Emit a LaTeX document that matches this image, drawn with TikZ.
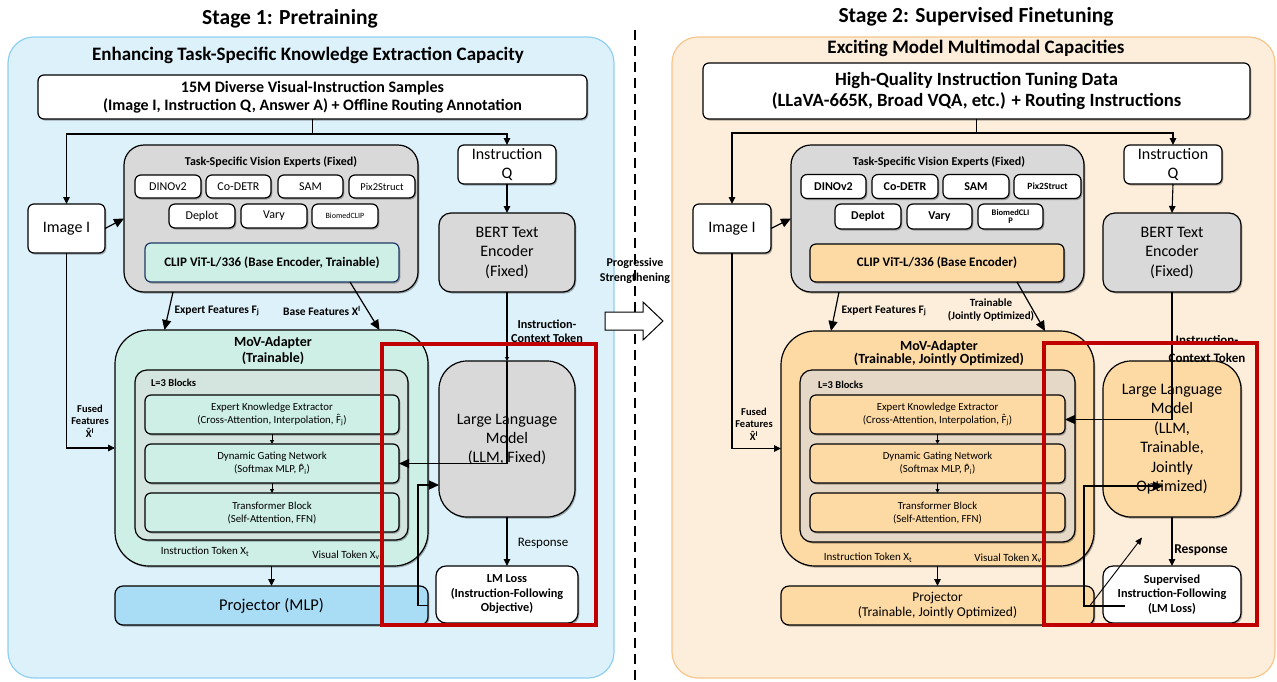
\documentclass[tikz,border=0pt]{standalone}
\usepackage{fontspec}
\setmainfont{Carlito}
\usetikzlibrary{arrows.meta,calc,shadows}
\definecolor{panelB}{HTML}{DDF1FB}
\definecolor{panelBd}{HTML}{8FD0F2}
\definecolor{panelO}{HTML}{FDEEDC}
\definecolor{panelOd}{HTML}{F7C68C}
\definecolor{grayF}{HTML}{D9D9D9}
\definecolor{mint}{HTML}{CDEFE5}
\definecolor{mintg}{HTML}{D4E4DE}
\definecolor{projB}{HTML}{A9DDF6}
\definecolor{org}{HTML}{FDD9A4}
\definecolor{orgg}{HTML}{E6D8C6}
\definecolor{redb}{HTML}{C00000}
\definecolor{clipbd}{HTML}{1F3A68}
\newcommand\fz[2]{\fontsize{#1}{#2}\selectfont}
\newcommand\hatc[1]{{\ooalign{#1\cr\hidewidth\raisebox{0.17em}{\char"02C6}\hidewidth\cr}}}
\begin{document}
\begin{tikzpicture}[x=1pt,y=-1pt,
  every node/.style={inner sep=0pt, outer sep=0pt},
  panel/.style={line width=1.2pt, rounded corners=26pt},
  shd/.style={drop shadow={shadow xshift=1.3pt, shadow yshift=-1.6pt, opacity=0.3, fill=black}},
  wbox/.style={draw, line width=1.2pt, fill=white, rounded corners=6pt, align=center, shd},
  ttl/.style={font=\fz{21.5}{25}\bfseries},
  sub/.style={font=\fz{19}{22}\bfseries},
  lbl/.style={font=\fz{11.5}{13.5}\bfseries, align=center},
  arr/.style={line width=1.2pt, -{Triangle[length=10pt,width=9pt]}},
  arrs/.style={line width=1.1pt, -{Triangle[length=7pt,width=6.5pt]}},
  arrt/.style={line width=0.8pt, -{Triangle[length=4pt,width=4pt]}},
  ln/.style={line width=1.2pt},
  redbox/.style={draw=redb, line width=3.5pt}
]
\useasboundingbox (0,0) rectangle (1277,681);
\fill[white] (0,0) rectangle (1277,681);
% ---------------- panels
\draw[panel, fill=panelB, draw=panelBd] (8,37) rectangle (614,678);
\draw[panel, fill=panelO, draw=panelOd] (672,37) rectangle (1275,678);
\coordinate (dt) at (635,30);
\coordinate (db) at (635,681);
\draw[line width=2.6pt, dash pattern=on 10pt off 6pt] (dt) -- (db);
\node[ttl] (t1) at (290,19) {Stage 1: Pretraining};
\node[ttl] (t2) at (976,17) {Stage 2: Supervised Finetuning};
\node[lbl, font=\fz{12}{14.5}\bfseries] (prog) at (635,271) {Progressive\\Strengthening};
\draw[line width=1pt, fill=white] (605,312) -- (643,312) -- (643,302) -- (663,321) -- (643,340) -- (643,330) -- (605,330) -- cycle;

% ================= STAGE 1
\node[sub] (s1) at (308,55) {Enhancing Task-Specific Knowledge Extraction Capacity};
\node[wbox, minimum width=549, minimum height=44, font=\fz{16}{18}\bfseries] (d1) at (312.5,97) {15M Diverse Visual-Instruction Samples\\(Image I, Instruction Q, Answer A) + Offline Routing Annotation};
\node[wbox, minimum width=77, minimum height=49, font=\fz{16}{19}] (img1) at (66.5,228.5) {Image I};
\node[wbox, fill=grayF, rounded corners=20pt, minimum width=294, minimum height=147] (gray1) at (271,218.5) {};
\node[font=\fz{12}{14}\bfseries] (gt1) at (271,162) {Task-Specific Vision Experts (Fixed)};
\node[wbox, minimum width=66, minimum height=23, font=\fz{12}{14}] (dino1) at (168,186.5) {DINOv2};
\node[wbox, minimum width=65, minimum height=23, font=\fz{12}{14}] (codetr1) at (238.5,186.5) {Co-DETR};
\node[wbox, minimum width=65, minimum height=23, font=\fz{12}{14}] (sam1) at (310.5,186.5) {SAM};
\node[wbox, minimum width=66, minimum height=23, font=\fz{10.5}{12}] (pix1) at (382,186.5) {Pix2Struct};
\node[wbox, minimum width=66, minimum height=24, font=\fz{12}{14}] (deplot1) at (202,216) {Deplot};
\node[wbox, minimum width=66, minimum height=24, font=\fz{12}{14}] (vary1) at (274,216) {Vary};
\node[wbox, minimum width=66, minimum height=24, font=\fz{8}{10}] (bio1) at (345,216) {BiomedCLIP};
\node[wbox, fill=mint, draw=clipbd, minimum width=254, minimum height=39, font=\fz{13}{15}\bfseries] (clip1) at (272,262.5) {CLIP ViT-L/336 (Base Encoder, Trainable)};
\node[wbox, minimum width=98, minimum height=39, font=\fz{16}{19}] (iq1) at (507,164.5) {Instruction\\Q};
\node[wbox, fill=grayF, rounded corners=12pt, minimum width=136, minimum height=79, font=\fz{16}{19.5}] (bert1) at (507,252.5) {BERT Text\\Encoder\\(Fixed)};
% MoV adapter
\node[wbox, fill=mint, rounded corners=34pt, minimum width=313, minimum height=236] (mov1) at (271.5,448) {};
\node[font=\fz{14}{16}\bfseries, align=center] (movt1) at (273,351) {MoV-Adapter\\(Trainable)};
\node[wbox, fill=mintg, rounded corners=12pt, minimum width=273, minimum height=170] (l31) at (271.5,455) {};
\node[anchor=west, font=\fz{10.5}{12}\bfseries] (l3t1) at (151,383) {L=3 Blocks};
\node[wbox, fill=mint, minimum width=254, minimum height=39, font=\fz{10.8}{13}] (eke1) at (272,414.5) {Expert Knowledge Extractor\\(Cross-Attention, Interpolation, \hatc{F}\textsubscript{j})};
\node[wbox, fill=mint, minimum width=254, minimum height=39, font=\fz{10.8}{13}] (dgn1) at (272,463.5) {Dynamic Gating Network\\(Softmax MLP, \hatc{P}\textsubscript{i})};
\node[wbox, fill=mint, minimum width=254, minimum height=39, font=\fz{10.8}{13}] (tb1) at (272,512.5) {Transformer Block\\(Self-Attention, FFN)};
\node[font=\fz{11}{12}] (it1) at (205,552) {Instruction Token X\textsubscript{t}};
\node[font=\fz{11}{12}] (vt1) at (346,555) {Visual Token X\textsubscript{v}};
\node[wbox, fill=projB, rounded corners=8pt, minimum width=313, minimum height=39, font=\fz{16.5}{19}] (proj1) at (271.5,605.5) {Projector (MLP)};
\node[wbox, fill=grayF, rounded corners=28pt, minimum width=136, minimum height=156, font=\fz{16}{19}] (llm1) at (507,439) {Large Language\\Model\\(LLM, Fixed)};
\node[wbox, rounded corners=10pt, minimum width=142, minimum height=57, font=\fz{12.3}{14.5}\bfseries] (loss1) at (507,594.5) {LM Loss\\(Instruction-Following\\Objective)};
\node[font=\fz{13}{15}] (resp1) at (543,543) {Response};
\node[lbl, font=\fz{12.2}{14}\bfseries] (ict1) at (547,331) {Instruction-\\Context Token};
\node[lbl, font=\fz{10.5}{12.5}\bfseries] (ff1) at (90,421) {Fused\\Features\\\hatc{X}\textsuperscript{I}};
\node[lbl] (ef1) at (217,311) {Expert Features F\textsubscript{j}};
\node[lbl] (bf1) at (322,311) {Base Features X\textsuperscript{I}};
% connectors stage 1
\draw[ln] (d1.south) -- ++(0,15) coordinate (j1);
\draw[arrs] (j1) -| (img1.north);
\draw[arrs] (j1) -| (iq1.north);
\draw[arrs] (iq1.south) -- (bert1.north);
\draw[arr] (img1.east) -- (gray1.west);
\draw[arr] ([xshift=-98]gray1.south) -- ([xshift=-107]mov1.north);
\draw[arr] ([xshift=78]clip1.south) -- ([xshift=108]mov1.north);
\draw[arrs] (img1.south) |- (mov1.west);
\draw[arrt] (eke1.south) -- (dgn1.north);
\draw[arrt] (dgn1.south) -- (tb1.north);
\draw[arrs] (mov1.south) -- (proj1.north);
\draw[arrs] (llm1.south) -- (loss1.north);
\draw[arrt, line width=1.2pt] (bert1.south) -- (llm1.north);
\draw[arr] (llm1.north) |- (dgn1.east);
\draw[arr] (proj1.east) -- ++(-10,0) |- ([yshift=-46]llm1.west);
\draw[redbox] (382,344) rectangle (596,625);

% ================= STAGE 2
\node[sub] (s2) at (976,48) {Exciting Model Multimodal Capacities};
\node[wbox, minimum width=547, minimum height=56, font=\fz{18.7}{21}\bfseries] (d2) at (976.5,91) {High-Quality Instruction Tuning Data\\(LLaVA-665K, Broad VQA, etc.) + Routing Instructions};
\node[wbox, minimum width=78, minimum height=49, font=\fz{16}{19}] (img2) at (732,228.5) {Image I};
\node[wbox, fill=grayF, rounded corners=20pt, minimum width=293, minimum height=147] (gray2) at (937.5,218.5) {};
\node[font=\fz{12}{14}\bfseries] (gt2) at (939,162) {Task-Specific Vision Experts (Fixed)};
\node[wbox, minimum width=65, minimum height=24, font=\fz{12}{14}\bfseries] (dino2) at (833.5,186.5) {DINOv2};
\node[wbox, minimum width=66, minimum height=24, font=\fz{12}{14}\bfseries] (codetr2) at (905,186.5) {Co-DETR};
\node[wbox, minimum width=66, minimum height=24, font=\fz{12}{14}\bfseries] (sam2) at (976,186.5) {SAM};
\node[wbox, minimum width=67, minimum height=24, font=\fz{9.5}{12}\bfseries] (pix2) at (1047.5,186.5) {Pix2Struct};
\node[wbox, minimum width=66, minimum height=25, font=\fz{12}{14}\bfseries] (deplot2) at (868,216.5) {Deplot};
\node[wbox, minimum width=65, minimum height=25, font=\fz{12}{14}\bfseries] (vary2) at (939.5,216.5) {Vary};
\node[wbox, minimum width=65, minimum height=25, font=\fz{8.5}{8.5}\bfseries] (bio2) at (1010.5,216.5) {BiomedCLI\\P};
\node[wbox, fill=org, minimum width=254, minimum height=38, font=\fz{13}{15}\bfseries] (clip2) at (937,263) {CLIP ViT-L/336 (Base Encoder)};
\node[wbox, minimum width=98, minimum height=39, font=\fz{16}{19}] (iq2) at (1173,164.5) {Instruction\\Q};
\node[wbox, fill=grayF, rounded corners=12pt, minimum width=138, minimum height=79, font=\fz{16}{19.5}] (bert2) at (1172,252.5) {BERT Text\\Encoder\\(Fixed)};
\node[wbox, fill=org, rounded corners=34pt, minimum width=313, minimum height=235] (mov2) at (937.5,448.5) {};
\node[font=\fz{14}{13}\bfseries, align=center] (movt2) at (939,353) {MoV-Adapter\\(Trainable, Jointly Optimized)};
\node[wbox, fill=orgg, rounded corners=12pt, minimum width=275, minimum height=172] (l32) at (937.5,456) {};
\node[anchor=west, font=\fz{10.5}{12}\bfseries] (l3t2) at (818,385) {L=3 Blocks};
\node[wbox, fill=org, minimum width=255, minimum height=39, font=\fz{10.8}{13}] (eke2) at (937.5,414.5) {Expert Knowledge Extractor\\(Cross-Attention, Interpolation, \hatc{F}\textsubscript{j})};
\node[wbox, fill=org, minimum width=255, minimum height=39, font=\fz{10.8}{13}] (dgn2) at (937.5,463.5) {Dynamic Gating Network\\(Softmax MLP, \hatc{P}\textsubscript{i})};
\node[wbox, fill=org, minimum width=255, minimum height=39, font=\fz{10.8}{13}] (tb2) at (937.5,512.5) {Transformer Block\\(Self-Attention, FFN)};
\node[font=\fz{11}{12}] (it2) at (868,558) {Instruction Token X\textsubscript{t}};
\node[font=\fz{11}{12}] (vt2) at (1008,558) {Visual Token X\textsubscript{v}};
\node[wbox, fill=org, rounded corners=8pt, minimum width=313, minimum height=39, font=\fz{13.5}{15}] (proj2) at (937.5,605.5) {Projector\\(Trainable, Jointly Optimized)};
\node[wbox, fill=org, rounded corners=28pt, minimum width=138, minimum height=156, font=\fz{16}{19.5}] (llm2) at (1172,439) {Large Language\\Model\\(LLM,\\Trainable,\\Jointly\\Optimized)};
\node[wbox, rounded corners=10pt, minimum width=138, minimum height=57, font=\fz{12.3}{14.5}\bfseries] (sup2) at (1172,594.5) {Supervised\\Instruction-Following\\(LM Loss)};
\node[font=\fz{13.5}{15}\bfseries] (resp2) at (1201,550) {Response};
\node[lbl, font=\fz{13}{18}\bfseries] (ict2) at (1207,349) {Instruction-\\Context Token};
\node[lbl, font=\fz{10.5}{12.5}\bfseries] (ff2) at (754,424) {Fused\\Features\\\hatc{X}\textsuperscript{I}};
\node[lbl] (ef2) at (884,311) {Expert Features F\textsubscript{j}};
\node[lbl, font=\fz{11}{13}\bfseries] (tr2) at (991,310) {Trainable\\(Jointly Optimized)};
% connectors stage 2
\draw[ln] (d2.south) -- ++(0,14) coordinate (j2);
\draw[arrs] (j2) -| (img2.north);
\draw[arrs] (j2) -| (iq2.north);
\draw[arrs] (iq2.south) -- (bert2.north);
\draw[arr] (img2.east) -- (gray2.west);
\draw[arr] ([xshift=-98.5]gray2.south) -- ([xshift=-106.5]mov2.north);
\draw[arr] ([xshift=80]clip2.south) -- ([xshift=107.5]mov2.north);
\draw[arrs] (img2.south) |- (mov2.west);
\draw[arrt] (eke2.south) -- (dgn2.north);
\draw[arrt] (dgn2.south) -- (tb2.north);
\draw[arrs] (mov2.south) -- (proj2.north);
\draw[arrs] (llm2.south) -- (sup2.north);
\draw[arr] (bert2.south) |- ([yshift=-5]eke2.east);
\draw[arr] ([xshift=22,yshift=-11.5]sup2.west) -- ++(-41,0) -- ++(0,-120) -- ++(79,0);
\draw[line width=0.9pt, -{Triangle[length=7pt,width=6pt]}] ([xshift=-4]proj2.east) -- ++(52,-68);
\draw[redbox] (1044,343) rectangle (1257,625);
\end{tikzpicture}
\end{document}
